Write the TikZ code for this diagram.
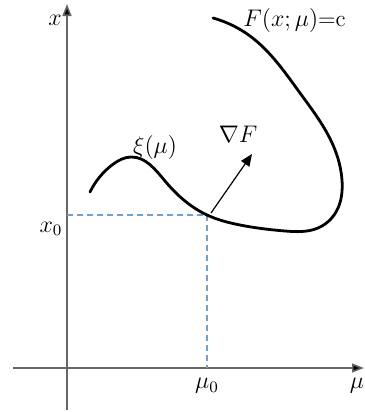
\documentclass[tikz,border=0pt]{standalone}
\usetikzlibrary{arrows.meta,hobby}
\definecolor{dashblue}{RGB}{110,160,210}
\begin{document}
\begin{tikzpicture}[x=0.5pt,y=-0.5pt,
  axisline/.style={draw=black!60,line width=0.8pt},
  tipstyle/.style={-{Triangle[length=6pt,width=4.5pt,fill=black]}},
  guide/.style={draw=dashblue,line width=0.6pt,dash pattern=on 3pt off 2pt},
  curveline/.style={draw=black,line width=1.4pt,line cap=round},
  lbl/.style={inner sep=0pt,font=\fontsize{11.5}{13}\selectfont}]
\useasboundingbox (0,0) rectangle (364,412);
% axes
\coordinate (ybot) at (67,410);
\coordinate (ytop) at (67,4);
\coordinate (xleft) at (13,368);
\coordinate (xright) at (364,368);
\draw[axisline,tipstyle] (ybot) -- (ytop);
\draw[axisline,tipstyle] (xleft) -- (xright);
% point
\coordinate (P) at (207,215);
\coordinate (Px) at (67,215);
\coordinate (Pm) at (207,368);
\draw[guide] (Px) -- (P) -- (Pm);
% curve
\draw[curveline] (213,18) to[curve through={(250,36) (300,93) (333,145) (342,180) (336,212) (318,228) (285,231) (240,225) (207,215) (165,181) (131,157) (112,165)}] (90,192);
% gradient arrow
\coordinate (G) at (252,154);
\draw[line width=0.6pt,-{Triangle[length=6pt,width=5pt]}] (211,213) -- (G);
% labels
\node[lbl] (lx) at (55,20) {$x$};
\node[lbl] (lx0) at (51,229) {$x_0$};
\node[lbl] (lm0) at (207,386) {$\mu_0$};
\node[lbl] (lm) at (357,386) {$\mu$};
\node[lbl] (lxi) at (155,147) {$\xi(\mu)$};
\node[lbl] (lgrad) at (238,134) {$\nabla F$};
\node[lbl,anchor=west] (lF) at (243,20) {$F(x;\mu)$=c};
\end{tikzpicture}
\end{document}
